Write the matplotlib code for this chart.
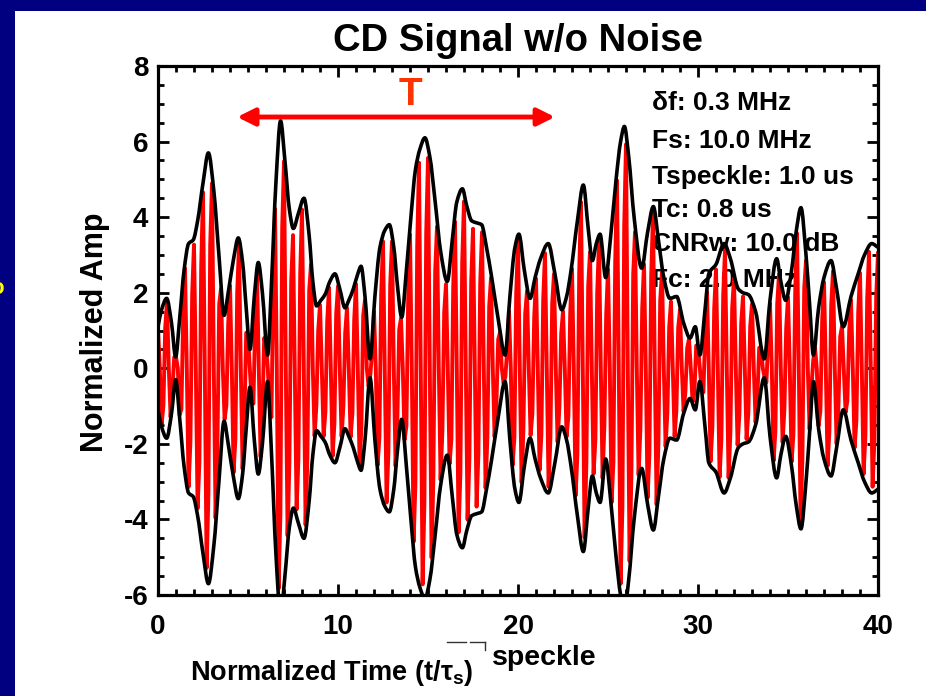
import numpy as np
import matplotlib
matplotlib.use("Agg")
import matplotlib.pyplot as plt
from matplotlib.patches import Rectangle, PathPatch
from matplotlib.path import Path
from matplotlib.lines import Line2D
from matplotlib.ticker import MultipleLocator

plt.rcParams['font.family'] = ['Liberation Sans', 'DejaVu Sans']
plt.rcParams['font.weight'] = 'bold'
plt.rcParams['axes.unicode_minus'] = False
plt.rcParams['mathtext.fontset'] = 'custom'
plt.rcParams['mathtext.rm'] = 'Liberation Sans:bold'
plt.rcParams['mathtext.it'] = 'Liberation Sans:bold'
plt.rcParams['mathtext.bf'] = 'Liberation Sans:bold'

# Speckle envelope |A(t)| (normalized time t / T_speckle)
env_t = [0.0, 0.2, 0.48, 0.75, 0.98, 1.2, 1.45, 1.7, 1.96, 2.2,
         2.5, 2.8, 3.1, 3.4, 3.67, 3.9, 4.2, 4.46, 4.7, 4.9,
         5.11, 5.35, 5.57, 5.8, 6.09, 6.3, 6.55, 6.81, 7.05, 7.3,
         7.52, 7.8, 8.11, 8.4, 8.6, 8.81, 9.05, 9.28, 9.55, 9.83,
         10.1, 10.39, 10.6, 10.85, 11.1, 11.28, 11.5, 11.78, 12.05, 12.33,
         12.6, 12.85, 13.1, 13.3, 13.54, 13.8, 14.05, 14.3, 14.55, 14.83,
         15.1, 15.4, 15.7, 16.07, 16.35, 16.6, 16.91, 17.15, 17.43, 17.7,
         17.98, 18.25, 18.54, 18.9, 19.28, 19.55, 19.83, 20.05, 20.35, 20.67,
         20.95, 21.25, 21.68, 22.05, 22.43, 22.7, 22.95, 23.3, 23.63, 23.9,
         24.13, 24.35, 24.56, 24.87, 25.15, 25.45, 25.7, 25.91, 26.15, 26.45,
         26.87, 27.2, 27.52, 27.8, 28.1, 28.44, 28.81, 29.2, 29.56, 29.85,
         30.1, 30.4, 30.6, 31.0, 31.45, 31.8, 32.24, 32.5, 32.8, 33.2,
         33.68, 34.0, 34.37, 34.6, 34.87, 35.2, 35.45, 35.72, 36.0, 36.2,
         36.41, 36.7, 37.0, 37.39, 37.7, 38.07, 38.5, 38.9, 39.25, 39.65,
         40.0]
env_amp = [1.1, 1.55, 1.85, 1.2, 0.3, 1.3, 2.6, 3.3, 3.4, 3.9,
           4.9, 5.7, 4.7, 2.9, 1.4, 2.0, 2.9, 3.45, 2.8, 1.6,
           0.5, 1.9, 2.8, 2.0, 0.35, 2.2, 4.9, 6.55, 5.5, 4.2,
           3.7, 4.1, 4.5, 3.5, 2.3, 1.65, 1.8, 1.95, 2.3, 2.5,
           2.1, 1.6, 1.8, 2.1, 2.5, 2.7, 1.9, 0.25, 1.9, 3.2,
           3.65, 3.8, 3.2, 2.2, 1.35, 2.6, 4.0, 5.25, 5.8, 6.1,
           5.6, 4.4, 3.1, 2.3, 3.4, 4.4, 4.75, 4.3, 3.9, 3.85,
           3.8, 3.2, 2.4, 1.3, 0.35, 1.9, 3.2, 3.55, 2.6, 1.85,
           2.4, 2.9, 3.3, 2.5, 1.55, 1.9, 2.6, 3.9, 4.85, 3.7,
           2.85, 3.3, 3.55, 2.4, 3.5, 5.0, 6.0, 6.4, 5.6, 4.0,
           2.65, 3.6, 4.28, 3.4, 2.4, 1.85, 1.9, 1.2, 0.8, 1.1,
           0.35, 1.6, 2.5, 2.75, 3.3, 2.9, 2.1, 2.0, 1.95, 1.5,
           0.25, 1.8, 2.9, 2.3, 1.8, 2.6, 3.6, 4.25, 3.0, 1.7,
           0.35, 1.6, 2.4, 2.85, 2.1, 1.1, 1.9, 2.5, 3.0, 3.3,
           3.2]

# Simulation parameters shown in the legend box
FS = 10.0      # sampling rate, samples per T_speckle
FC = 2.0       # carrier, cycles per T_speckle
PHASE = np.pi / 10
param_lines = ["\u03b4f: 0.3 MHz", "Fs: 10.0 MHz", "Tspeckle: 1.0 us",
               "Tc: 0.8 us", "CNRw: 10.0 dB", "Fc: 2.0 MHz"]
param_y = [7.02, 6.02, 5.06, 4.19, 3.29, 2.34]

x_ticks = [0, 10, 20, 30, 40]
y_ticks = [-6, -4, -2, 0, 2, 4, 6, 8]


def pchip_slopes(x, y):
    h = np.diff(x)
    d = np.diff(y) / h
    m = np.zeros_like(y)
    m[0], m[-1] = d[0], d[-1]
    for i in range(1, len(y) - 1):
        if d[i - 1] * d[i] > 0:
            w1 = 2 * h[i] + h[i - 1]
            w2 = h[i] + 2 * h[i - 1]
            m[i] = (w1 + w2) / (w1 / d[i - 1] + w2 / d[i])
    return m


def smooth_path(x, y):
    """Shape-preserving cubic curve through (x, y) as a Bezier path."""
    m = pchip_slopes(x, y)
    verts = [(x[0], y[0])]
    codes = [Path.MOVETO]
    for i in range(len(x) - 1):
        h = x[i + 1] - x[i]
        verts += [(x[i] + h / 3, y[i] + m[i] * h / 3),
                  (x[i + 1] - h / 3, y[i + 1] - m[i + 1] * h / 3),
                  (x[i + 1], y[i + 1])]
        codes += [Path.CURVE4] * 3
    return Path(verts, codes)


def pchip_eval(x, y, xs):
    m = pchip_slopes(x, y)
    idx = np.clip(np.searchsorted(x, xs, side='right') - 1, 0, len(x) - 2)
    h = x[idx + 1] - x[idx]
    s = (xs - x[idx]) / h
    h00 = 2 * s**3 - 3 * s**2 + 1
    h10 = s**3 - 2 * s**2 + s
    h01 = -2 * s**3 + 3 * s**2
    h11 = s**3 - s**2
    return h00 * y[idx] + h10 * h * m[idx] + h01 * y[idx + 1] + h11 * h * m[idx + 1]


env_t = np.array(env_t)
env_amp = np.array(env_amp)
t_s = np.arange(0, 40.0 + 1e-9, 1.0 / FS)
signal = pchip_eval(env_t, env_amp, t_s) * np.cos(2 * np.pi * FC * t_s + PHASE)

W, H = 926, 696
fig = plt.figure(figsize=(W / 100, H / 100), dpi=100)
fig.patch.set_facecolor('#000080')
panel = Rectangle((15 / W, 0), 1, 1 - 11 / H, transform=fig.transFigure,
                  facecolor='white', edgecolor='none', zorder=-10)
fig.add_artist(panel)

ax = fig.add_axes([158 / W, 1 - 595 / H, 720 / W, 529 / H])
ax.set_zorder(2)
ax.set_facecolor('white')

ax.plot(t_s, signal, color='#ff0000', lw=2.8, zorder=2)
for sign in (1, -1):
    ax.add_patch(PathPatch(smooth_path(env_t, sign * env_amp), fill=False,
                           edgecolor='black', lw=2.6, zorder=3, joinstyle='round'))

ax.set_xlim(0, 40)
ax.set_ylim(-6, 8)
ax.set_xticks(x_ticks)
ax.set_yticks(y_ticks)
ax.xaxis.set_minor_locator(MultipleLocator(1))
ax.yaxis.set_minor_locator(MultipleLocator(0.5))
ax.tick_params(which='both', direction='in', top=True, right=True, width=2.0, color='black')
ax.tick_params(which='major', length=8)
ax.tick_params(which='minor', length=4)
ax.tick_params(axis='x', which='major', labelsize=20, pad=14)
ax.tick_params(axis='y', which='major', labelsize=20, pad=7)
for lab in ax.get_xticklabels() + ax.get_yticklabels():
    lab.set_fontweight('bold')
for sp in ax.spines.values():
    sp.set_linewidth(2.3)
    sp.set_zorder(5)

for txt, yv in zip(param_lines, param_y):
    ax.text(27.44, yv, txt, fontsize=19, fontweight='bold', ha='left', va='center', zorder=1)

ax.annotate('', xy=(22.05, 6.65), xytext=(4.4, 6.65),
            arrowprops=dict(arrowstyle='<|-|>', color='#ff0000', lw=3.5,
                            mutation_scale=26, shrinkA=0, shrinkB=0))
ax.text(14.0, 7.22, 'T', color='#ff3300', fontsize=28, fontweight='bold',
        ha='center', va='center', zorder=6)

fig.text(518 / W, 1 - 41 / H, 'CD Signal w/o Noise', fontsize=27.5, fontweight='bold',
         ha='center', va='center')
fig.text(95 / W, 1 - 332 / H, 'Normalized Amp', fontsize=22, fontweight='bold',
         rotation=90, ha='center', va='center')
fig.text(190 / W, 1 - 673 / H, 'Normalized Time (t/$\\tau_\\mathrm{s}$)', fontsize=19.5,
         fontweight='bold', ha='left', va='center')
fig.text(492 / W, 1 - 658 / H, 'speckle', fontsize=20.5, fontweight='bold',
         ha='left', va='center')
for x0, x1 in [(447, 466), (470, 485)]:
    fig.add_artist(Line2D([x0 / W, x1 / W], [1 - 642 / H, 1 - 642 / H],
                          transform=fig.transFigure, color='#333333', lw=1.0))
fig.add_artist(Line2D([485 / W, 485 / W], [1 - 642 / H, 1 - 650 / H],
                      transform=fig.transFigure, color='#333333', lw=1.0))
fig.text(4 / W, 1 - 289 / H, 'o', color='#ffff00', fontsize=16, fontweight='bold',
         ha='right', va='center')

fig.savefig('out.png', dpi=100, facecolor=fig.get_facecolor())
